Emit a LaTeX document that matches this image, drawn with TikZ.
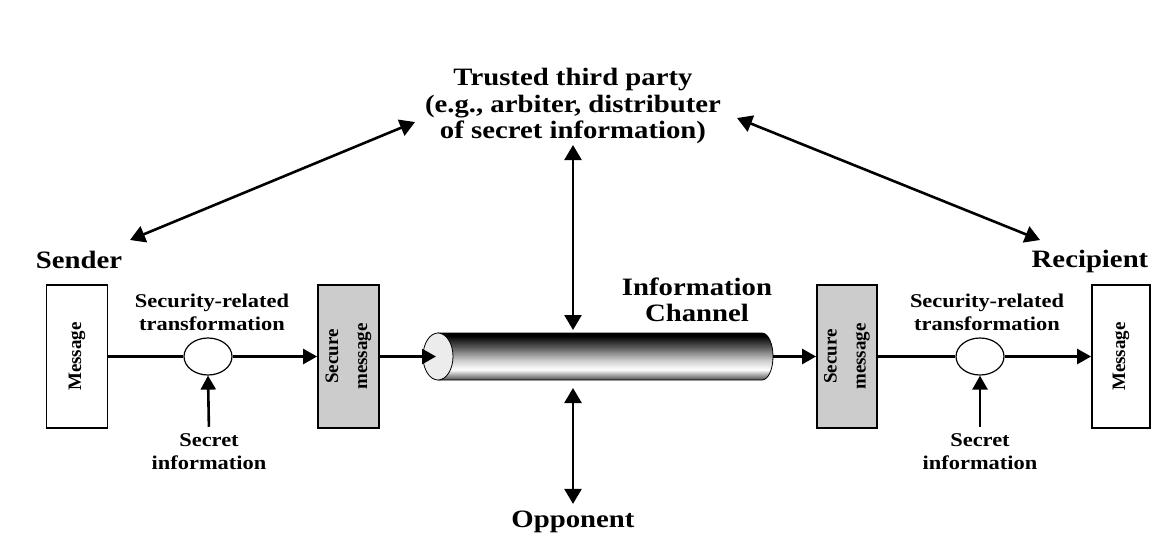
\documentclass[tikz,border=0pt]{standalone}
\usepackage{fontspec}
\setmainfont{Liberation Serif}[FakeStretch=1.15]
\newfontfamily\rotfont{Liberation Serif}
\usetikzlibrary{arrows.meta,shapes.geometric}
\newcommand\bigtxt{\fontsize{25}{26.5}\selectfont\bfseries}
\newcommand\smtxt{\fontsize{19.5}{23}\selectfont\bfseries}
\newcommand\rottxt{\rotfont\fontsize{19}{29}\selectfont\bfseries}
\pgfdeclareverticalshading{pipeshade}{100bp}{color(0bp)=(black!70); color(25bp)=(black!70); color(29bp)=(gray!90); color(36bp)=(white); color(46bp)=(gray!40); color(60bp)=(gray!70!black); color(72bp)=(black); color(100bp)=(black)}
\tikzset{
  arr/.style={-{Triangle[length=14pt,width=15pt]}, line width=2.6pt},
  darr/.style={{Triangle[length=15pt,width=17pt]}-{Triangle[length=15pt,width=17pt]}, line width=2.6pt},
  plain/.style={line width=2.6pt},
  msgbox/.style={draw, line width=1.8pt, fill=white, minimum width=61pt, minimum height=143pt, inner sep=0pt},
  secbox/.style={msgbox, fill=gray!40},
  trans/.style={ellipse, draw, line width=1.2pt, fill=white, minimum width=48pt, minimum height=37pt, inner sep=0pt},
  big/.style={font=\bigtxt, align=center, inner sep=1pt},
  small/.style={font=\smtxt, align=center, inner sep=1pt},
  rot/.style={font=\rottxt, align=center, rotate=90, inner sep=0pt}
}
\begin{document}
\begin{tikzpicture}[x=1pt,y=-1pt]
\useasboundingbox[fill=white] (0,0) rectangle (1153,555);

% text nodes
\node[big] (ttp) at (573,106) {Trusted third party\\(e.g., arbiter, distributer\\of secret information)};
\node[big] (sender) at (79,260) {Sender};
\node[big] (recip) at (1090,261) {Recipient};
\node[big] (chlab) at (697,300) {Information\\Channel};
\node[big] (opp) at (573,522) {Opponent};

% boxes
\node[msgbox] (msgL) at (77,356.5) {};
\node[rot] at (msgL.center) {Message};
\node[secbox] (secL) at (348.5,356.5) {};
\node[rot] at (secL.center) {Secure\\message};
\node[secbox, minimum width=60pt] (secR) at (847,356.5) {};
\node[rot] at (secR.center) {Secure\\message};
\node[msgbox, minimum width=58pt] (msgR) at (1121,356.5) {};
\node[rot] at (msgR.center) {Message};

% transformations
\node[trans] (cirL) at (208,356.5) {};
\node[trans] (cirR) at (980,356.5) {};
\node[small] (trL) at (212,312) {Security-related\\transformation};
\node[small] (trR) at (987,312) {Security-related\\transformation};
\node[small] (siL) at (209,452) {Secret\\information};
\node[small] (siR) at (980,452) {Secret\\information};

% channel (cylinder)
\shade[shading=pipeshade, draw, line width=0.8pt]
  (438,333) -- (762,333) arc[start angle=-90, end angle=90, x radius=11, y radius=23.5] -- (438,380) -- cycle;
\draw[line width=0.8pt, fill=gray!15] (438,356.5) ellipse[x radius=15, y radius=23.5];
\coordinate (chin) at (436,356.5);
\coordinate (chout) at (773,356.5);
\coordinate (chtop) at (573,330);
\coordinate (chbot) at (573,388);

% diagonal ends
\coordinate (ttpL) at (415,122);
\coordinate (sendT) at (130,240);
\coordinate (ttpR) at (737,118);
\coordinate (recT) at (1040,240);

% connectors
\draw[plain] (msgL.east) -- (cirL.west);
\draw[arr] (cirL.east) -- (secL.west);
\draw[arr, shorten <=6pt] (siL.north) -- (cirL.south);
\draw[arr] (secL.east) -- (chin);
\draw[arr] (chout) -- (secR.west);
\draw[plain] (secR.east) -- (cirR.west);
\draw[arr] (cirR.east) -- (msgR.west);
\draw[arr, shorten <=6pt] (siR.north) -- (cirR.south);
\draw[darr] (ttp.south) -- (chtop);
\draw[darr] (chbot) -- ([yshift=6pt]opp.north);
\draw[darr] (ttpL) -- (sendT);
\draw[darr] (ttpR) -- (recT);
\end{tikzpicture}
\end{document}
